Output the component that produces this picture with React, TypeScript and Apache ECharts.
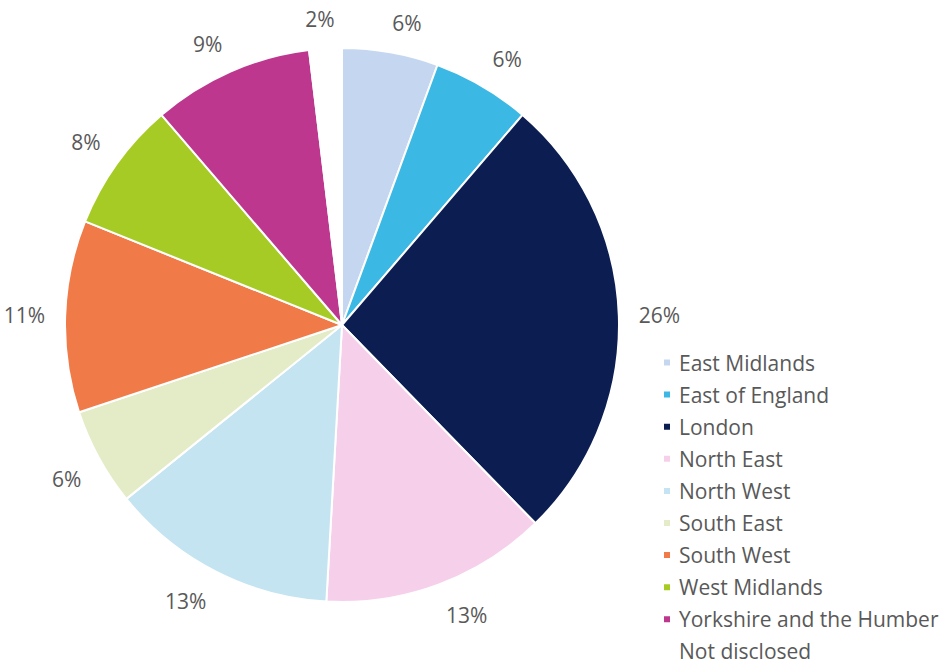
import React, { useEffect, useRef } from "react";
import * as echarts from "echarts";

const categories = [
  "East Midlands",
  "East of England",
  "London",
  "North East",
  "North West",
  "South East",
  "South West",
  "West Midlands",
  "Yorkshire and the Humber",
  "Not disclosed",
];
const values = [5.6, 5.7, 26.4, 13.2, 13.3, 5.7, 11.2, 7.6, 9.4, 1.9];
const colors = [
  "#C5D7F0",
  "#3BB8E3",
  "#0C1D52",
  "#F6D0EA",
  "#C4E4F1",
  "#E3ECC6",
  "#F07A48",
  "#A7CB25",
  "#BD378E",
  "#FFFFFF",
];

const CX = 342;
const CY = 325;
const RADIUS = 277;
const LABEL_R = 297;

export default function App() {
  const ref = useRef<HTMLDivElement>(null);
  useEffect(() => {
    document.body.style.margin = "0";
    const chart = echarts.init(ref.current!, null, { renderer: "svg" });
    const font = "'Open Sans', 'Noto Sans', sans-serif";
    const total = values.reduce((a, b) => a + b, 0);
    const mids: number[] = [];
    let acc = 0;
    values.forEach((v) => {
      mids.push(((acc + v / 2) / total) * Math.PI * 2);
      acc += v;
    });
    const clamp = (v: number) => Math.max(-1, Math.min(1, v));
    chart.setOption({
      animation: false,
      backgroundColor: "#ffffff",
      legend: {
        orient: "vertical",
        left: 662,
        top: 352,
        height: 330,
        padding: 0,
        icon: "rect",
        itemWidth: 8,
        itemHeight: 8,
        itemGap: 11.1,
        data: categories,
        textStyle: {
          fontFamily: font,
          fontSize: 21,
          color: "#595959",
          lineHeight: 20,
          padding: [0, 0, 0, 3],
        },
      },
      series: [
        {
          type: "pie",
          center: [CX, CY],
          radius: [0, RADIUS],
          startAngle: 90,
          clockwise: true,
          avoidLabelOverlap: false,
          itemStyle: { borderColor: "#ffffff", borderWidth: 2 },
          label: {
            show: true,
            position: "outside",
            fontFamily: font,
            fontSize: 21,
            color: "#595959",
            formatter: (p: any) => Math.round(p.value) + "%",
          },
          labelLine: { show: false, length: 14, length2: 0 },
          labelLayout: (params: any) => {
            const a = mids[params.dataIndex];
            const ux = Math.sin(a);
            const uy = -Math.cos(a);
            const w = params.labelRect.width;
            const h = params.labelRect.height;
            return {
              x: CX + ux * LABEL_R + (clamp(ux * 5) * w) / 2,
              y: CY + uy * LABEL_R + (clamp(uy * 5) * h) / 2 + 1,
              align: "center",
              verticalAlign: "middle",
            };
          },
          data: categories.map((name, i) => ({
            name,
            value: values[i],
            itemStyle: { color: colors[i] },
          })),
        },
      ],
    });
    return () => chart.dispose();
  }, []);
  return <div ref={ref} style={{ width: 941, height: 664 }} />;
}
